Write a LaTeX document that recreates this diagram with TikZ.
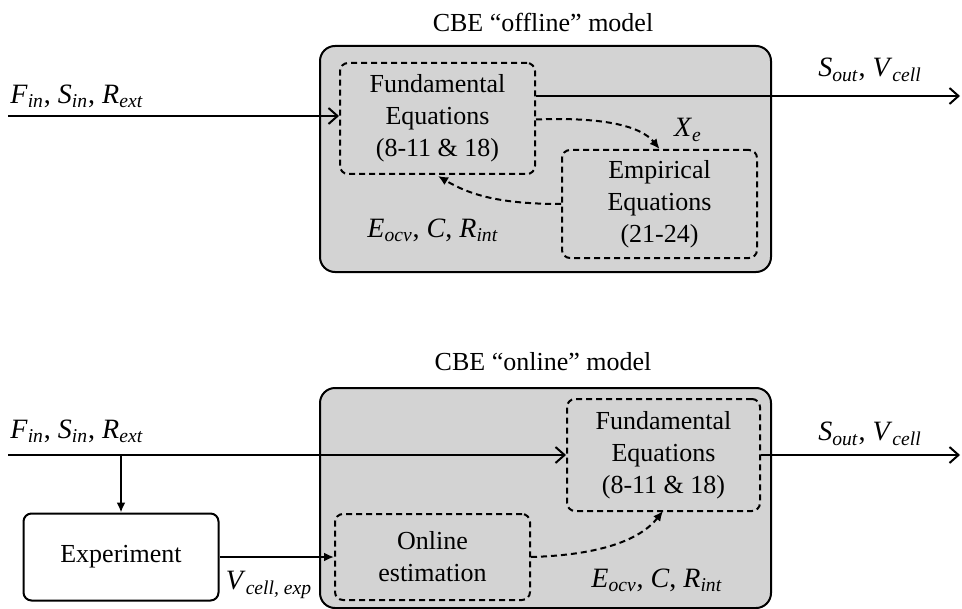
\documentclass[tikz,border=0pt]{standalone}
\usepackage{fontspec}
\setmainfont{Liberation Serif}
\usepackage{tikz}
\usetikzlibrary{arrows.meta}
\usetikzlibrary{positioning}
\definecolor{boxgray}{RGB}{211,211,211}
\tikzstyle{model} = [draw, line width=1pt, fill=boxgray, rectangle, rounded corners=7.5pt,
    minimum width=225.5pt]
\tikzstyle{eqblock} = [draw, dashed, dash pattern=on 3pt off 2pt, line width=1pt, rectangle,
    rounded corners=4pt, align=center, minimum width=97.5pt, inner sep=0pt]
\tikzstyle{block} = [draw, line width=1pt, rectangle, rounded corners=4pt,
    align=center, minimum width=97.5pt, minimum height=43.5pt, inner sep=0pt]
\tikzstyle{lbl} = [inner sep=0pt, align=center]
\tikzstyle{var} = [inner sep=0pt, font=\fontsize{14}{16}\selectfont]
\tikzstyle{input} = [coordinate]
\tikzstyle{output} = [coordinate]
\newcommand{\vsym}[2]{\textit{#1}\textsubscript{\textit{#2}}}

\begin{document}
\begin{tikzpicture}[x=0.5pt,y=-0.5pt,line width=1pt,font=\fontsize{13}{16}\selectfont,
    open/.style={-{Straight Barb[length=4.5pt,width=8pt]}},
    filled/.style={-{Latex[length=5pt,width=4.5pt]}},
    dsh/.style={dash pattern=on 3pt off 2pt}]
    \useasboundingbox (0,0) rectangle (962,609);

    % offline model
    \node[lbl] (title1) at (543,22) {CBE “offline” model};
    \node[model, minimum height=113pt] (cbe1) at (545.5,159) {};
    \node[eqblock, minimum height=55.5pt] (fund1) at (437.5,118.5) {Fundamental\\Equations\\(8-11 \& 18)};
    \node[eqblock, minimum height=54pt] (emp) at (659.5,204) {Empirical\\Equations\\(21-24)};

    \node [input] (in1) at (8,116) {};
    \node [output] (out1) at (960,96) {};
    \node[var] (fin1) at (77,96) {\vsym{F}{in}, \vsym{S}{in}, \vsym{R}{ext}};
    \node[var] (sout1) at (870,70) {\vsym{S}{out}, \vsym{V}{cell}};
    \node[var] (xe) at (688,130) {\vsym{X}{e}};
    \node[var] (par1) at (433,230) {\vsym{E}{ocv}, \textit{C}, \vsym{R}{int}};

    \draw[open] (in1) -- (fund1.west |- in1);
    \draw[open] (fund1.east |- out1) -- (out1);
    \draw[filled, dsh] ([yshift=-0.5pt]fund1.east) .. controls (600,117) and (640,125) .. (emp.north);
    \draw[filled, dsh] (emp.west) .. controls (500,204) and (470,195) .. (438,176);

    % online model
    \node[lbl] (title2) at (543,362) {CBE “online” model};
    \node[model, minimum height=110pt] (cbe2) at (545.5,498) {};
    \node[eqblock, minimum height=56pt, minimum width=96.5pt] (fund2) at (663.5,455) {Fundamental\\Equations\\(8-11 \& 18)};
    \node[eqblock, minimum height=43pt] (online) at (432.5,557) {Online\\estimation};
    \node[block] (exper) at (121,557) {Experiment};

    \node [input] (in2) at (8,455) {};
    \node [input] (br) at (121,455) {};
    \node [output] (out2) at (960,455) {};
    \node[var] (fin2) at (77,431) {\vsym{F}{in}, \vsym{S}{in}, \vsym{R}{ext}};
    \node[var] (sout2) at (870,434) {\vsym{S}{out}, \vsym{V}{cell}};
    \node[var] (vexp) at (269,585) {\vsym{V}{cell, exp}};
    \node[var] (par2) at (657,580) {\vsym{E}{ocv}, \textit{C}, \vsym{R}{int}};

    \draw[open] (in2) -- (fund2.west);
    \draw[filled] (br) -- (exper.north);
    \draw[filled] (exper.east) -- (online.west);
    \draw[open] (fund2.east) -- (out2);
    \draw[filled, dsh] (online.east) .. controls (600,555) and (640,540) .. (663,511);
\end{tikzpicture}
\end{document}
